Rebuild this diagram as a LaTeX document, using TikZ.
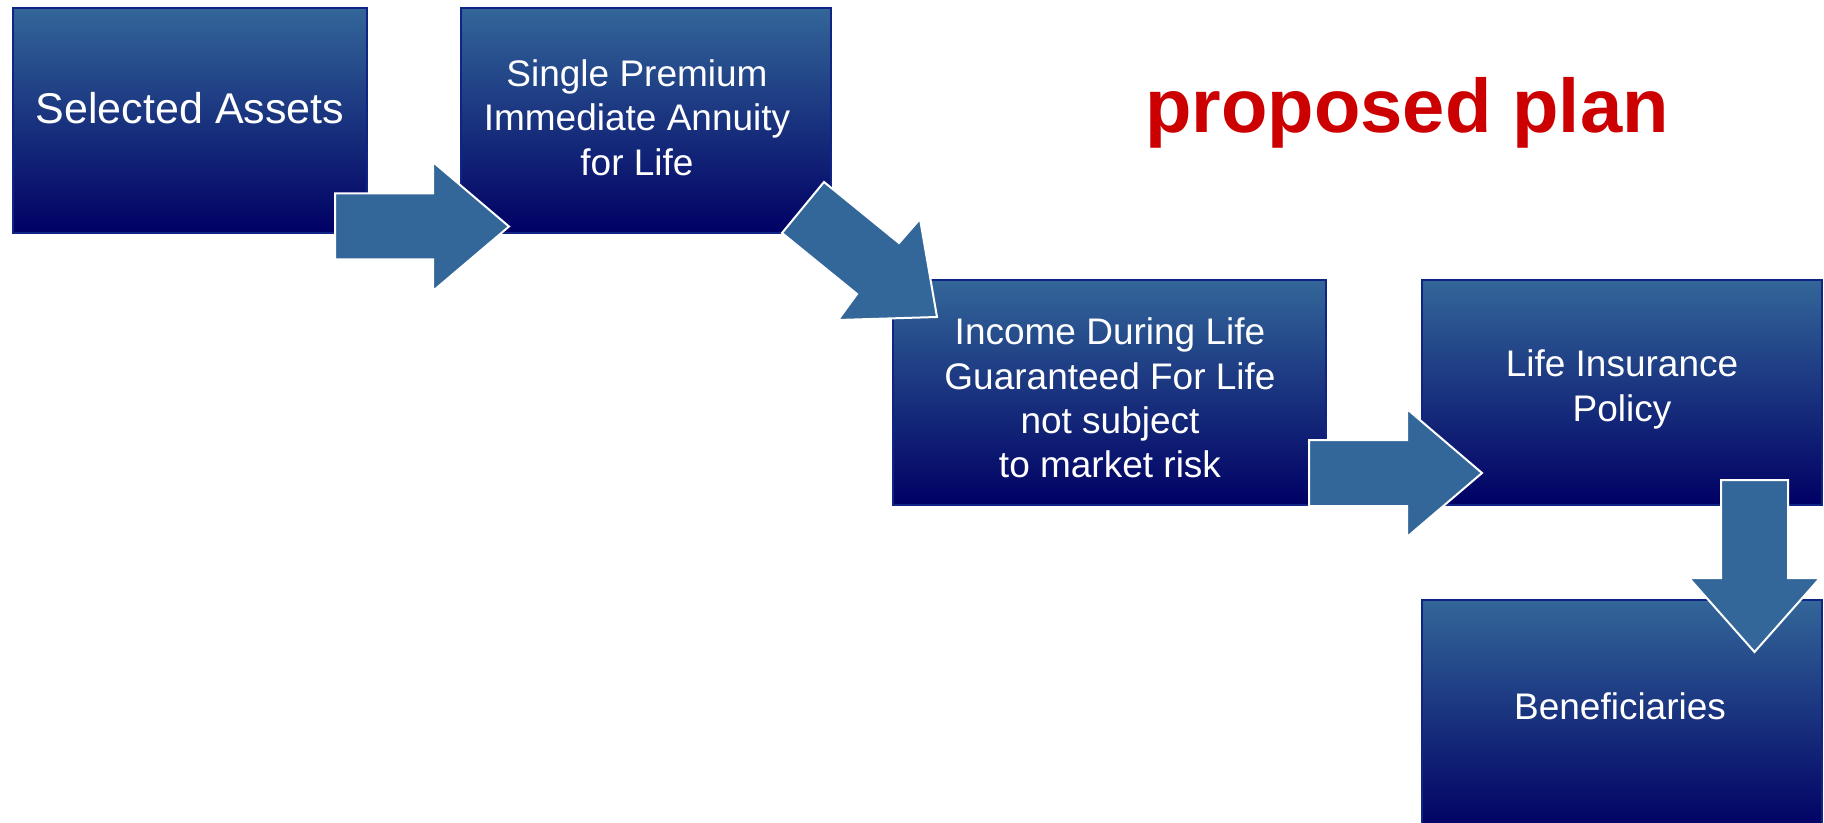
\documentclass[tikz,border=0pt]{standalone}
\usepackage{fontspec}
\setmainfont{Liberation Sans}

\begin{document}
\begin{tikzpicture}[x=0.5pt,y=0.5pt,yscale=-1,xscale=1,
  box/.style={draw={rgb, 255:red, 16; green, 36; blue, 132 }, line width=1pt, inner sep=0pt,
    top color={rgb, 255:red, 51; green, 102; blue, 153 }, middle color={rgb, 255:red, 34; green, 62; blue, 130 },
    bottom color={rgb, 255:red, 0; green, 0; blue, 100 }},
  blockarrow/.style={draw=white, line width=1pt, line join=miter, fill={rgb, 255:red, 51; green, 102; blue, 153 }},
  boxtext/.style={text=white, align=center, inner sep=0pt, font=\fontsize{18.5}{22.2}\selectfont}]
\useasboundingbox (0,0) rectangle (1824,823);
\clip (0,0) rectangle (1824,823);

%Shape: Rectangle
\node [box, minimum width=177pt, minimum height=112.5pt] (assets) at (190,120.5) {};
%Shape: Rectangle
\node [box, minimum width=185pt, minimum height=112.5pt] (annuity) at (646,120.5) {};
%Shape: Rectangle
\node [box, minimum width=216.5pt, minimum height=112.5pt] (income) at (1109.5,392.5) {};
%Shape: Rectangle
\node [box, minimum width=200pt, minimum height=112.5pt] (policy) at (1622,392.5) {};
%Shape: Rectangle
\node [box, minimum width=200pt, minimum height=115pt] (heirs) at (1622,715) {};

%Shape: Right Arrow
\draw [blockarrow] (335,193.5) -- (433,193.5) -- (433,162) -- (509,226.5) -- (433,291) -- (433,259.5) -- (335,259.5) -- cycle ;
%Shape: Right Arrow (tilted)
\draw [blockarrow] (782,233) -- (824,182) -- (899,243) -- (920,219) -- (937,317) -- (838,320) -- (857,294) -- cycle ;
%Shape: Right Arrow
\draw [blockarrow] (1309,440) -- (1407,440) -- (1407,409) -- (1482,473) -- (1407,537) -- (1407,506) -- (1309,506) -- cycle ;
%Shape: Down Arrow
\draw [blockarrow] (1721,480) -- (1788,480) -- (1788,578) -- (1820,578) -- (1754.5,652) -- (1689,578) -- (1721,578) -- cycle ;

% Text Node
\draw (190,108.5) node [boxtext, font=\fontsize{21.5}{25.8}\selectfont] (assets-t) {Selected Assets};
% Text Node
\draw (637,117.5) node [boxtext] (annuity-t) {Single Premium\\Immediate Annuity\\for Life};
% Text Node
\draw (1110,398) node [boxtext] (income-t) {Income During Life\\Guaranteed For Life\\not subject\\to market risk};
% Text Node
\draw (1622,389.5) node [boxtext] (policy-t) {Life Insurance\\Policy};
% Text Node
\draw (1620,706) node [boxtext] (heirs-t) {Beneficiaries};
% Text Node
\draw (1407,133) node [anchor=base, inner sep=0pt, font=\fontsize{38}{45}\selectfont\bfseries, text={rgb, 255:red, 204; green, 0; blue, 0 }] (title) {proposed plan};

\end{tikzpicture}
\end{document}
